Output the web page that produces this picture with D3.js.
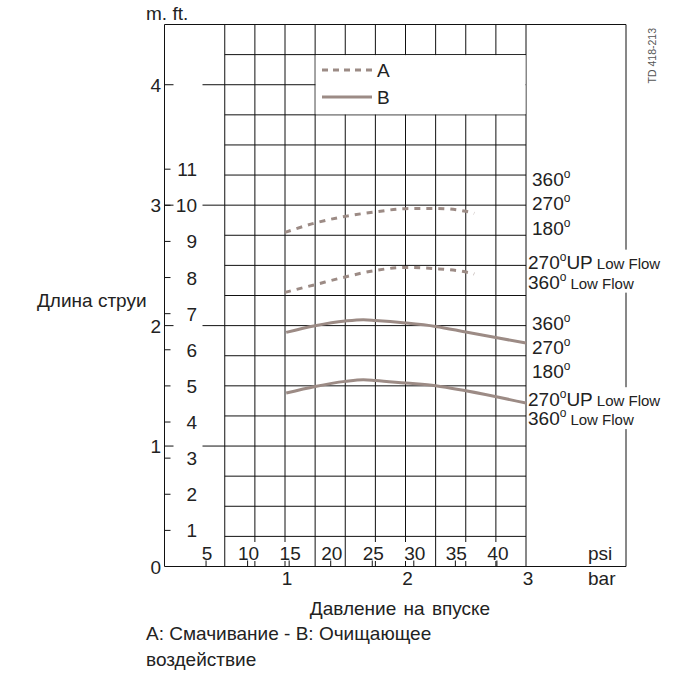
<!DOCTYPE html>
<html>
<head>
<meta charset="utf-8">
<script src="https://cdn.jsdelivr.net/npm/d3@7"></script>
<style>
body { margin: 0; background: #fff; }
text { font-family: "Liberation Sans", Arial, sans-serif; fill: #222; }
</style>
</head>
<body>
<div id="chart"></div>
<script>

// pressure in bar for the curves
const barA = [1, 1.25, 1.5, 1.75, 2, 2.25, 2.5, 2.57];
const wetUpper = [2.774, 2.852, 2.907, 2.944, 2.971, 2.973, 2.949, 2.932];
const wetLower = [2.276, 2.340, 2.404, 2.458, 2.483, 2.473, 2.445, 2.429];

const barB = [1.01, 1.25, 1.5, 1.65, 1.75, 2, 2.25, 2.5, 3];
const cleanUpper = [1.944, 1.999, 2.038, 2.049, 2.043, 2.022, 1.993, 1.947, 1.855];
const cleanLower = [1.440, 1.495, 1.537, 1.551, 1.545, 1.523, 1.501, 1.459, 1.357];

const meterTicks = [0, 1, 2, 3, 4];
const feetTicks = [1, 2, 3, 4, 5, 6, 7, 8, 9, 10, 11];
const psiTicks = [5, 10, 15, 20, 25, 30, 35, 40];
const barTicks = [1, 2, 3];

// nozzle labels on the right, with the level (m) they sit at
const nozzleLabels = ['360', '270', '180', '270UP', '360', '360', '270', '180', '270UP', '360'];
const nozzleLow = [false, false, false, true, true, false, false, false, true, true];
const nozzleLevel = [3.215, 3.016, 2.808, 2.531, 2.365, 2.02, 1.826, 1.627, 1.389, 1.232];

const width = 676, height = 674;
const curveColor = '#9c8b85';
const fs = '19px';

const svg = d3.select('#chart')
    .append('svg')
    .attr('width', width)
    .attr('height', height);

let scaleX = d3.scaleLinear().domain([0, 3]).range([164.5, 526]);
let scaleY = d3.scaleLinear().domain([0, 4.5]).range([566.5, 24.5]);
let scaleFt = d3.scaleLinear().domain([0, 10]).range([566.5, 205.3]);
let scalePsi = d3.scaleLinear().domain([0, 14.5]).range([164.5, scaleX(1)]);

// grid
let gridX = d3.range(0.5, 3.01, 0.25);
let gridY = d3.range(0.25, 4.51, 0.25);

svg.selectAll('.gx')
    .data(gridX)
    .enter()
    .append('line')
    .attr('x1', d => scaleX(d)).attr('x2', d => scaleX(d))
    .attr('y1', scaleY(4.5)).attr('y2', scaleY(0))
    .style('stroke', '#111').style('stroke-width', 1);

svg.selectAll('.gy')
    .data(gridY)
    .enter()
    .append('line')
    .attr('x1', d => Number.isInteger(d) ? 202.5 : scaleX(0.5))
    .attr('x2', scaleX(3))
    .attr('y1', d => scaleY(d)).attr('y2', d => scaleY(d))
    .style('stroke', '#111').style('stroke-width', 1);

// frame
svg.append('path')
    .attr('d', `M${scaleX(0)},${scaleY(0)} V${scaleY(4.5)} H626 V${scaleY(0)} H${scaleX(0)}`)
    .style('fill', 'none').style('stroke', '#111').style('stroke-width', 1);

// legend box
svg.append('rect')
    .attr('x', scaleX(1.25) + 0.5).attr('y', scaleY(4.25) + 0.5)
    .attr('width', scaleX(3) - scaleX(1.25) - 1)
    .attr('height', scaleY(3.75) - scaleY(4.25) - 1)
    .style('fill', '#fff');

svg.append('line')
    .attr('x1', 322).attr('x2', 372).attr('y1', 70).attr('y2', 70)
    .style('stroke', curveColor).style('stroke-width', 3).style('stroke-dasharray', '6,5');
svg.append('line')
    .attr('x1', 322).attr('x2', 372).attr('y1', 97).attr('y2', 97)
    .style('stroke', curveColor).style('stroke-width', 3);
svg.append('text').attr('x', 377).attr('y', 77).style('font-size', fs).text('A');
svg.append('text').attr('x', 377).attr('y', 104).style('font-size', fs).text('B');

// left axis ticks
svg.selectAll('.mt')
    .data(meterTicks.filter(d => d > 0))
    .enter()
    .append('line')
    .attr('x1', scaleX(0)).attr('x2', scaleX(0) + 9)
    .attr('y1', d => scaleY(d)).attr('y2', d => scaleY(d))
    .style('stroke', '#111');

svg.selectAll('.ml')
    .data(meterTicks)
    .enter()
    .append('text')
    .attr('x', 161).attr('y', d => scaleY(d) + 7)
    .style('text-anchor', 'end').style('font-size', fs)
    .text(d => d);

svg.selectAll('.ft')
    .data(feetTicks)
    .enter()
    .append('line')
    .attr('x1', scaleX(0)).attr('x2', scaleX(0) + 6)
    .attr('y1', d => scaleFt(d)).attr('y2', d => scaleFt(d))
    .style('stroke', '#111');

svg.selectAll('.fl')
    .data(feetTicks)
    .enter()
    .append('text')
    .attr('x', 197).attr('y', d => scaleFt(d) + 7)
    .style('text-anchor', 'end').style('font-size', fs)
    .text(d => d);

svg.append('text').attr('x', 146).attr('y', 20).style('font-size', fs).text('m. ft.');

// bottom axis: psi labels above the line, bar labels below
let psiG = svg.selectAll('.pl')
    .data(psiTicks)
    .enter()
    .append('g')
    .attr('transform', d => `translate(${scalePsi(d)},0)`);

psiG.append('rect')
    .attr('x', d => d < 10 ? -6 : -11).attr('y', 542)
    .attr('width', d => d < 10 ? 12 : 23).attr('height', 19)
    .style('fill', '#fff');
psiG.append('line')
    .attr('x1', 0).attr('x2', 0).attr('y1', scaleY(0) - 6).attr('y2', scaleY(0))
    .style('stroke', '#111');
psiG.append('text')
    .attr('x', 1).attr('y', 560)
    .style('text-anchor', 'middle').style('font-size', fs)
    .text(d => d);

svg.selectAll('.bl')
    .data(barTicks)
    .enter()
    .append('text')
    .attr('x', d => scaleX(d) + 2).attr('y', 585)
    .style('text-anchor', 'middle').style('font-size', fs)
    .text(d => d);

svg.append('text').attr('x', 588).attr('y', 560).style('font-size', fs).text('psi');
svg.append('text').attr('x', 588).attr('y', 585).style('font-size', fs).text('bar');

// curves
let line = d3.line()
    .x(d => scaleX(d[0]))
    .y(d => scaleY(d[1]))
    .curve(d3.curveMonotoneX);

[wetUpper, wetLower].forEach(s => {
    svg.append('path')
        .attr('d', line(barA.map((b, i) => [b, s[i]])))
        .style('fill', 'none')
        .style('stroke', curveColor)
        .style('stroke-width', 3)
        .style('stroke-dasharray', '6,6');
});

[cleanUpper, cleanLower].forEach(s => {
    svg.append('path')
        .attr('d', line(barB.map((b, i) => [b, s[i]])))
        .style('fill', 'none')
        .style('stroke', curveColor)
        .style('stroke-width', 3);
});

// nozzle labels
nozzleLabels.forEach((t, i) => {
    let g = svg.append('g')
        .attr('transform', `translate(${nozzleLow[i] ? 528 : 532},${scaleY(nozzleLevel[i]) + 7})`);
    let txt = g.append('text').style('font-size', fs);
    txt.append('tspan').text(t.replace('UP', ''));
    txt.append('tspan').attr('dy', -8).style('font-size', '12px').text('o');
    if (t.indexOf('UP') >= 0) txt.append('tspan').attr('dy', 8).text('UP');
    if (nozzleLow[i]) {
        txt.append('tspan').attr('dy', t.indexOf('UP') >= 0 ? 0 : 8).attr('dx', 4).style('font-size', '15px').text('Low Flow');
        let bb = txt.node().getBBox();
        g.insert('rect', 'text')
            .attr('x', bb.x).attr('y', bb.y).attr('width', bb.width + 2).attr('height', bb.height)
            .style('fill', '#fff');
    }
});

svg.append('text')
    .attr('transform', 'translate(656,28) rotate(-90)')
    .style('text-anchor', 'end').style('font-size', '10.5px').style('fill', '#555')
    .text('TD 418-213');

svg.append('text').attr('x', 37).attr('y', 307).style('font-size', fs).text('Длина струи');

svg.append('text').attr('x', 400).attr('y', 615)
    .style('text-anchor', 'middle').style('font-size', fs).style('word-spacing', '2px')
    .text('Давление на впуске');
svg.append('text').attr('x', 146).attr('y', 640).style('font-size', fs).text('A: Смачивание - B: Очищающее');
svg.append('text').attr('x', 146).attr('y', 666).style('font-size', fs).text('воздействие');

</script>
</body>
</html>
